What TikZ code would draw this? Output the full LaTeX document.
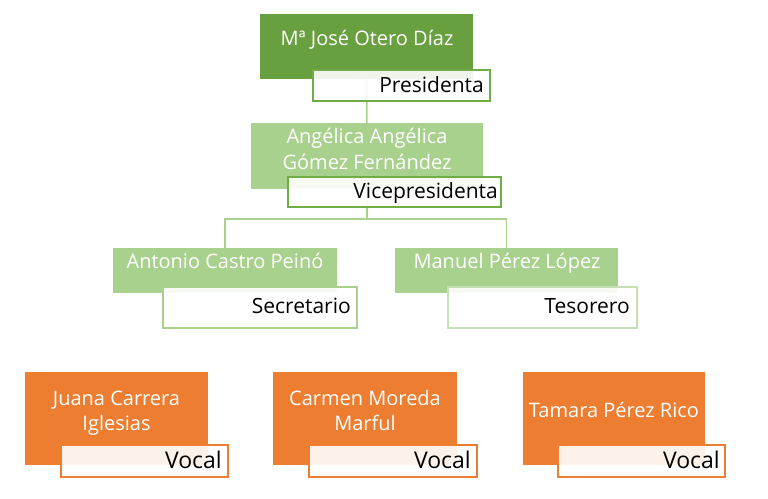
\documentclass[tikz,border=0pt]{standalone}
\usepackage{fontspec}
\setmainfont{Open Sans}
\definecolor{dgreen}{HTML}{68A040}
\definecolor{lgreen}{HTML}{A9D18E}
\definecolor{mgreen}{HTML}{70AD47}
\definecolor{pgreen}{HTML}{C5E0B4}
\definecolor{orng}{HTML}{ED7D31}
\begin{document}
\begin{tikzpicture}[x=1pt,y=-1pt,
  colbox/.style={rectangle, draw=none, inner sep=0pt, outer sep=0pt},
  labbox/.style={rectangle, fill=white, fill opacity=0.9, line width=1.5pt, inner sep=0pt, outer sep=0pt},
  nametext/.style={text=white, font=\fontsize{20}{25}\selectfont, inner sep=0pt, anchor=base},
  roletext/.style={text=black, font=\fontsize{21}{25}\selectfont, inner sep=0pt, anchor=base east},
  vocaltext/.style={text=black, font=\fontsize{23}{27}\selectfont, inner sep=0pt, anchor=base east},
  conn/.style={draw=lgreen, line width=1.5pt}]
\useasboundingbox (0,0) rectangle (768,498);
\fill[white] (0,0) rectangle (768,498);

% coloured boxes
\node[colbox, fill=dgreen, minimum width=213pt, minimum height=65pt] (pres) at (366.5,46.5) {};
\node[colbox, fill=lgreen, minimum width=232pt, minimum height=66pt] (vp) at (367,156) {};
\node[colbox, fill=lgreen, minimum width=224pt, minimum height=45pt] (sec) at (225,270.5) {};
\node[colbox, fill=lgreen, minimum width=223pt, minimum height=45pt] (tes) at (506.5,270.5) {};
\node[colbox, fill=orng, minimum width=183pt, minimum height=93pt] (v1) at (116.5,418.5) {};
\node[colbox, fill=orng, minimum width=184pt, minimum height=93pt] (v2) at (365,418.5) {};
\node[colbox, fill=orng, minimum width=182pt, minimum height=93pt] (v3) at (614,418.5) {};

% connectors
\coordinate (bus) at (367,219);
\draw[conn] (pres.south) -- (vp.north);
\draw[conn] (vp.south) -- (vp.south |- bus) -| (sec.north);
\draw[conn] (vp.south |- bus) -| (tes.north);

% label boxes
\node[labbox, draw=mgreen, minimum width=177pt, minimum height=31pt] (presL) at (401.5,85.5) {};
\node[labbox, draw=mgreen, minimum width=213pt, minimum height=30pt] (vpL) at (394.5,192) {};
\node[labbox, draw=lgreen, minimum width=194pt, minimum height=41pt] (secL) at (260,307.5) {};
\node[labbox, draw=pgreen, minimum width=189pt, minimum height=41pt] (tesL) at (542.5,307.5) {};
\node[labbox, draw=orng, minimum width=167pt, minimum height=32pt] (v1L) at (144.5,461) {};
\node[labbox, draw=orng, minimum width=168pt, minimum height=32pt] (v2L) at (393,461) {};
\node[labbox, draw=orng, minimum width=167pt, minimum height=32pt] (v3L) at (641.5,461) {};

% names
\node[nametext] (presT) at (367,45) {Mª José Otero Díaz};
\node[nametext] (vpT1) at (367,143) {Angélica Angélica};
\node[nametext] (vpT2) at (367,169) {Gómez Fernández};
\node[nametext] (secT) at (225,268) {Antonio Castro Peinó};
\node[nametext] (tesT) at (507,268) {Manuel Pérez López};
\node[nametext] (v1T1) at (116.5,405) {Juana Carrera};
\node[nametext] (v1T2) at (116.5,430) {Iglesias};
\node[nametext] (v2T1) at (365,405) {Carmen Moreda};
\node[nametext] (v2T2) at (365,430) {Marful};
\node[nametext] (v3T) at (614,417) {Tamara Pérez Rico};

% roles
\node[roletext] (presR) at (484,92) {Presidenta};
\node[roletext] (vpR) at (498,198) {Vicepresidenta};
\node[roletext] (secR) at (351,313) {Secretario};
\node[roletext] (tesR) at (630,313) {Tesorero};
\node[vocaltext] (v1R) at (222,468) {Vocal};
\node[vocaltext] (v2R) at (471,468) {Vocal};
\node[vocaltext] (v3R) at (720,468) {Vocal};
\end{tikzpicture}
\end{document}
